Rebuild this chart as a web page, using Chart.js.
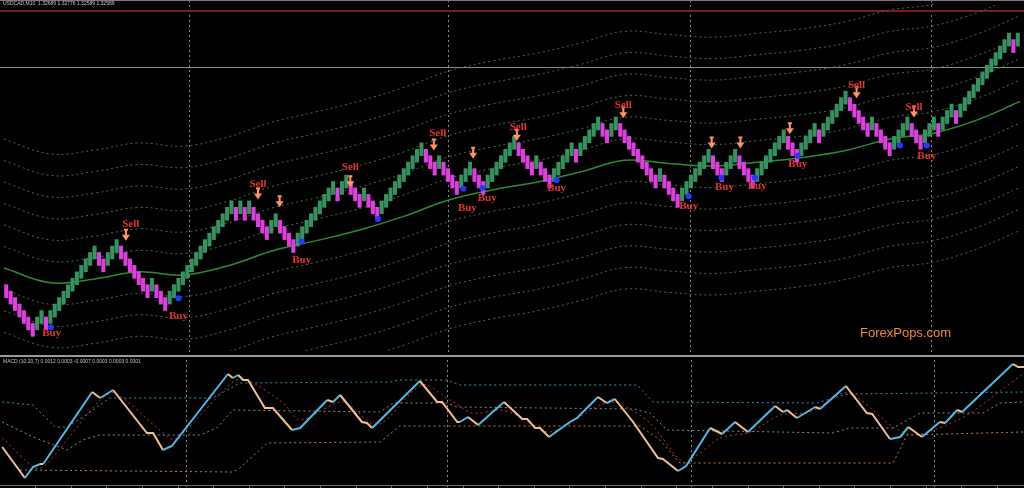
<!DOCTYPE html>
<html>
<head>
<meta charset="utf-8">
<title>USDCAD M10 renko</title>
<script src="https://cdn.jsdelivr.net/npm/chart.js@4"></script>
<style>
  html, body { margin: 0; padding: 0; background: #000; overflow: hidden; }
  #wrap { position: relative; width: 1024px; height: 488px; }
  #priceChart { position: absolute; left: 0; top: 0; }
  #macdChart { position: absolute; left: 0; top: 355px; }
</style>
</head>
<body>
<div id="wrap">
  <canvas id="priceChart" width="1024" height="355"></canvas>
  <canvas id="macdChart" width="1024" height="133"></canvas>
</div>
<script>
  // renko bricks, one value per bar (brick level, each body is 2 bricks tall)
  const brickLevel = [
    7, 6, 5, 4, 3, 2, 1, 2, 3, 2,
    3, 4, 5, 6, 7, 8, 9, 10, 11, 12,
    13, 12, 11, 12, 13, 14, 13, 12, 11, 10,
    9, 8, 7, 8, 7, 6, 5, 6, 7, 8,
    9, 10, 11, 12, 13, 14, 15, 16, 17, 18,
    19, 20, 19, 20, 19, 20, 19, 18, 17, 16,
    17, 18, 17, 16, 15, 14, 15, 16, 17, 18,
    19, 20, 21, 22, 23, 22, 23, 24, 23, 22,
    21, 22, 21, 20, 19, 20, 21, 22, 23, 24,
    25, 26, 27, 28, 29, 28, 27, 26, 27, 26,
    25, 24, 23, 24, 25, 26, 25, 24, 23, 24,
    25, 26, 27, 28, 29, 30, 29, 28, 27, 26,
    27, 26, 25, 24, 25, 26, 27, 28, 29, 28,
    29, 30, 31, 32, 33, 32, 31, 32, 33, 32,
    31, 30, 29, 28, 27, 26, 25, 24, 25, 24,
    23, 22, 21, 22, 23, 24, 25, 26, 27, 28,
    27, 26, 25, 26, 27, 28, 27, 26, 25, 24,
    25, 26, 27, 28, 29, 30, 31, 30, 29, 28,
    29, 30, 31, 32, 31, 32, 33, 34, 35, 36,
    37, 36, 35, 34, 33, 32, 33, 32, 31, 30,
    29, 30, 31, 32, 33, 32, 31, 30, 31, 32,
    33, 32, 33, 34, 35, 34, 35, 36, 37, 38,
    39, 40, 41, 42, 43, 44, 45, 46, 45, 46
  ];

  // moving average (solid green) and envelope step for the dotted bands
  const maIndex = [-0.5, 10, 20, 30, 40, 50, 60, 70, 80, 90, 100, 110, 120, 130, 140, 150, 160, 170, 180, 190, 200, 210, 220, 229.5];
  const maLevel = [10.6, 8.3, 8.9, 10.0, 9.5, 10.9, 13.2, 14.8, 16.5, 18.6, 21.1, 22.7, 23.9, 25.5, 27.3, 26.8, 26.4, 27.0, 27.7, 28.8, 30.6, 31.5, 33.6, 36.4];
  const bandStep = 3.33;
  const bandCount = 6;

  // signals
  const sellIdx = [28.2, 57.0, 77.9, 97.7, 115.9, 139.7, 192.5, 205.5];
  const sellLvl = [17.4, 23.6, 26.2, 31.5, 32.4, 35.8, 38.9, 35.6];
  const arrowIdx = [27.1, 57.0, 61.9, 77.9, 96.8, 105.7, 115.6, 139.7, 159.7, 166.2, 177.4, 192.5, 205.5];
  const arrowLvl = [15.6, 22.0, 20.8, 23.9, 29.6, 28.3, 31.1, 34.6, 29.9, 29.9, 32.1, 37.7, 34.7];
  const buyIdx = [10.3, 39.0, 66.9, 104.4, 108.9, 124.6, 154.5, 162.6, 170.0, 179.2, 208.4];
  const buyLvl = [0.45, 3.2, 11.8, 19.9, 21.4, 22.9, 20.2, 23.2, 23.3, 26.7, 28.0];
  const dotIdx = [10.1, 39.0, 66.9, 84.2, 103.5, 107.8, 124.6, 154.5, 161.9, 169.5, 179.2, 202.3, 208.4];
  const dotLvl = [1.4, 5.9, 14.7, 18.2, 22.9, 23.0, 24.2, 21.7, 24.6, 24.6, 28.0, 29.6, 29.6];

  const sessionBreaks = [41.3, 99.9, 154.7, 209.3];
  const highLineLevel = 50.4;
  const priceLineLevel = 41.7;

  // MACD panel (values in 0.0001)
  const macdIdx = [0, 5.1, 6.9, 8.5, 9.2, 20.2, 22.0, 24.9, 32.5, 33.9, 36.1, 38.1, 50.7, 51.8, 53.0, 54.1, 55.2, 59.0, 60.8, 65.1, 66.9, 73.0, 74.3, 75.9, 80.8, 81.9, 83.1, 93.8, 97.7, 98.8, 102.2, 102.8, 104.6, 106.9, 112.7, 116.8, 117.9, 119.7, 120.8, 122.8, 127.5, 129.1, 133.8, 135.8, 137.6, 141.7, 147.3, 148.4, 151.8, 153.6, 159.0, 161.7, 164.6, 167.5, 173.6, 175.4, 176.3, 178.5, 182.6, 183.7, 189.5, 194.2, 195.4, 199.4, 201.7, 203.5, 206.6, 210.6, 211.8, 214.5, 215.6, 227.0, 228.2, 229.5];
  const macdVal = [-0.85, -2.4, -1.85, -1.7, -1.7, 1.9, 1.6, 2.0, -0.15, -0.15, -1.0, -0.8, 2.8, 2.6, 2.75, 2.5, 2.5, 1.1, 1.1, 0, 0.1, 1.5, 1.4, 1.75, 0.4, 0.35, 0.1, 2.45, 1.4, 1.4, 0.4, 0.4, 0.65, 0.25, 1.4, 0.55, 0.55, 0.1, 0.1, -0.35, 0.4, 0.6, 1.65, 1.35, 1.55, 0.4, -1.4, -1.45, -2.05, -1.8, 0.1, -0.2, 0.4, -0.1, 1.2, 0.9, 1.0, 0.6, 1.15, 1.05, 2.2, 0.85, 0.8, -0.45, -0.35, 0.15, -0.35, 0.4, 0.35, 1.0, 0.9, 3.3, 3.15, 3.15];
  const signalIdx = [0, 7.4, 9.6, 22.0, 25.3, 35.4, 38.8, 51.8, 55.0, 63.1, 66.9, 76.5, 84.2, 94.3, 100.6, 105.7, 111.8, 115.6, 123.0, 134.3, 138.1, 145.5, 152.9, 156.7, 161.2, 168.0, 174.7, 181.4, 189.8, 200.1, 204.6, 209.1, 216.7, 229.5];
  const signalVal = [-0.4, -1.9, -1.8, 1.5, 1.85, 0, -0.45, 2.4, 2.5, 1.35, 0.5, 1.4, 0.25, 2.25, 1.5, 0.85, 1.0, 0.75, -0.1, 1.25, 1.35, 0.35, -1.6, -1.15, -0.4, -0.1, 0.75, 0.9, 1.85, 0.15, -0.25, 0, 0.75, 2.85];
  const upperIdx = [0, 6.9, 11.9, 14.5, 18.1, 24.2, 47.3, 53.4, 87.1, 89.3, 99.9, 102.8, 142.6, 146.2, 183.0, 189.8, 229.5];
  const upperVal = [1.4, 1.25, 0.15, 0.15, 0.65, 1.6, 1.6, 2.35, 2.4, 2.5, 2.5, 2.25, 2.25, 1.4, 1.35, 1.8, 1.9];
  const midIdx = [0, 6.9, 14.5, 18.1, 22.0, 44.4, 48.2, 51.8, 84.9, 87.8, 99.9, 102.2, 141.7, 145.5, 149.3, 186.6, 190.4, 200.1, 206.2, 220.3, 224.1, 229.5];
  const midVal = [0.4, -0.35, -1.0, -0.5, -0.25, -0.25, 0.1, 1.0, 0.9, 1.35, 1.35, 1.15, 1.05, 0.85, 0, -0.15, 0.1, 0.1, 0.85, 0.85, 1.35, 1.4];
  const lowerIdx = [4.0, 51.8, 53.4, 59.5, 84.9, 89.3, 143.3, 147.7, 152.2, 200.1, 203.2, 229.5];
  const lowerVal = [-2.0, -2.1, -1.9, -0.65, -0.6, 0.2, 0.2, -0.5, -1.65, -1.65, -0.25, -0.1];

  const headerText = 'USDCAD,M10  1.32689 1.32776 1.32589 1.32589';
  const macdText = 'MACD (10,20,7) 0.0012 0.0003 -0.0007 0.0003 0.0003 0.0001';

  const pts = (xs, ys) => xs.map((x, k) => ({ x: x, y: ys[k] }));

  function drawSessionLines(chart) {
    const { ctx, scales: { x } } = chart;
    ctx.save();
    ctx.strokeStyle = '#8a8a8a';
    ctx.lineWidth = 1;
    ctx.setLineDash([2, 3]);
    sessionBreaks.forEach(b => {
      const px = Math.round(x.getPixelForValue(b)) + 0.5;
      ctx.beginPath();
      ctx.moveTo(px, 0);
      ctx.lineTo(px, chart.height);
      ctx.stroke();
    });
    ctx.restore();
  }

  function drawArrow(ctx, px, py) {
    ctx.strokeStyle = '#ff9466';
    ctx.fillStyle = '#ff9466';
    ctx.lineWidth = 2;
    ctx.beginPath();
    ctx.moveTo(px - 2, py - 6);
    ctx.lineTo(px + 2, py - 6);
    ctx.moveTo(px, py - 6);
    ctx.lineTo(px, py);
    ctx.stroke();
    ctx.beginPath();
    ctx.moveTo(px - 4, py - 1);
    ctx.lineTo(px + 4, py - 1);
    ctx.lineTo(px, py + 5);
    ctx.closePath();
    ctx.fill();
  }

  const priceDecor = {
    id: 'priceDecor',
    beforeDatasetsDraw(chart) {
      const { ctx, scales: { x, y } } = chart;
      drawSessionLines(chart);
      ctx.save();
      // window border
      ctx.fillStyle = '#7a7a7a';
      ctx.fillRect(0, 0, chart.width, 1);
      // day high line and current price line
      const hy = Math.round(y.getPixelForValue(highLineLevel));
      ctx.fillStyle = '#7a1c1c';
      ctx.fillRect(0, hy - 1, chart.width, 2);
      const py = Math.round(y.getPixelForValue(priceLineLevel));
      ctx.fillStyle = '#8c8c8c';
      ctx.fillRect(0, py, chart.width, 1);
      ctx.restore();
    },
    afterDatasetsDraw(chart) {
      const { ctx, scales: { x, y } } = chart;
      ctx.save();
      arrowIdx.forEach((ix, k) => drawArrow(ctx, x.getPixelForValue(ix), y.getPixelForValue(arrowLvl[k])));
      ctx.font = 'bold 11px "Liberation Serif"';
      ctx.fillStyle = '#e3332b';
      ctx.textAlign = 'center';
      ctx.textBaseline = 'middle';
      sellIdx.forEach((ix, k) => ctx.fillText('Sell', x.getPixelForValue(ix), y.getPixelForValue(sellLvl[k])));
      buyIdx.forEach((ix, k) => ctx.fillText('Buy', x.getPixelForValue(ix), y.getPixelForValue(buyLvl[k])));
      // header and watermark
      ctx.textAlign = 'left';
      ctx.font = '5px "Liberation Sans"';
      ctx.fillStyle = '#c8c8c8';
      ctx.fillText(headerText, 3, 4);
      ctx.font = '13px "Liberation Sans"';
      ctx.fillStyle = '#f08a24';
      ctx.fillText('ForexPops.com', 860, 333);
      ctx.restore();
    }
  };

  const macdDecor = {
    id: 'macdDecor',
    beforeDatasetsDraw(chart) {
      const { ctx, scales: { x } } = chart;
      drawSessionLines(chart);
      ctx.save();
      ctx.fillStyle = '#9a9a9a';
      ctx.fillRect(0, 0, chart.width, 2);
      // bottom time axis
      ctx.fillStyle = '#6a6a6a';
      ctx.fillRect(0, 130, chart.width, 1);
      for (let t = 7.4; t < 230; t += 8) {
        const px = Math.round(x.getPixelForValue(t));
        ctx.fillRect(px, 130, 1, 3);
      }
      ctx.font = '5px "Liberation Sans"';
      ctx.fillStyle = '#c0c0c0';
      ctx.textBaseline = 'middle';
      ctx.fillText(macdText, 3, 7);
      ctx.restore();
    }
  };

  function createPriceChart() {
    const ctx = document.getElementById('priceChart').getContext('2d');
    const barColors = brickLevel.map((L, i) => (i > 0 && L > brickLevel[i - 1]) ? '#34935f' : '#e03ee0');

    const datasets = [
      {
        type: 'bar',
        data: brickLevel.map((L, i) => ({ x: i, y: [L - 1, L + 1] })),
        backgroundColor: barColors,
        borderWidth: 0,
        barThickness: 3.4,
        order: 1
      },
      {
        type: 'scatter',
        data: pts(dotIdx, dotLvl),
        backgroundColor: '#2438ff',
        borderWidth: 0,
        pointRadius: 3,
        order: 0
      },
      {
        type: 'line',
        data: pts(maIndex, maLevel),
        borderColor: '#2f8a2f',
        borderWidth: 1.5,
        pointRadius: 0,
        tension: 0.4,
        order: 5
      }
    ];
    for (let k = 1; k <= bandCount; k++) {
      [1, -1].forEach(sign => {
        datasets.push({
          type: 'line',
          data: maIndex.map((ix, j) => ({ x: ix, y: maLevel[j] + sign * k * bandStep })),
          borderColor: 'rgba(70, 125, 70, 0.9)',
          borderWidth: 1,
          borderDash: [2, 3],
          pointRadius: 0,
          tension: 0.4,
          order: 6
        });
      });
    }

    new Chart(ctx, {
      type: 'bar',
      data: { datasets: datasets },
      options: {
        responsive: false,
        animation: false,
        events: [],
        layout: { padding: 0 },
        plugins: { legend: { display: false }, tooltip: { enabled: false } },
        scales: {
          x: { type: 'linear', min: -0.5, max: 229.5, offset: false, display: false },
          y: { min: -2.27, max: 51.52, display: false }
        }
      },
      plugins: [priceDecor]
    });
  }

  function createMacdChart() {
    const ctx = document.getElementById('macdChart').getContext('2d');
    const dotted = (data, color) => ({
      data: data,
      borderColor: color,
      borderWidth: 1,
      borderDash: [2, 3],
      pointRadius: 0,
      tension: 0
    });

    new Chart(ctx, {
      type: 'line',
      data: {
        datasets: [
          {
            data: pts(macdIdx, macdVal),
            borderWidth: 2,
            pointRadius: 0,
            tension: 0,
            borderColor: '#f4c08e',
            segment: {
              borderColor: c => c.p1.parsed.y > c.p0.parsed.y ? '#4fb9e8' : '#f4c08e'
            },
            order: 0
          },
          Object.assign(dotted(pts(signalIdx, signalVal), '#c0392e'), { tension: 0.3, order: 1 }),
          Object.assign(dotted(pts(upperIdx, upperVal), '#3f8fb2'), { order: 2 }),
          Object.assign(dotted(pts(midIdx, midVal), '#8a8a8a'), { order: 3 }),
          Object.assign(dotted(pts(lowerIdx, lowerVal), '#c27a4c'), { order: 4 })
        ]
      },
      options: {
        responsive: false,
        animation: false,
        events: [],
        layout: { padding: 0 },
        plugins: { legend: { display: false }, tooltip: { enabled: false } },
        scales: {
          x: { type: 'linear', min: -0.5, max: 229.5, display: false },
          y: { min: -2.9, max: 3.75, display: false }
        }
      },
      plugins: [macdDecor]
    });
  }

  document.addEventListener('DOMContentLoaded', () => {
    createPriceChart();
    createMacdChart();
  });
</script>
</body>
</html>
